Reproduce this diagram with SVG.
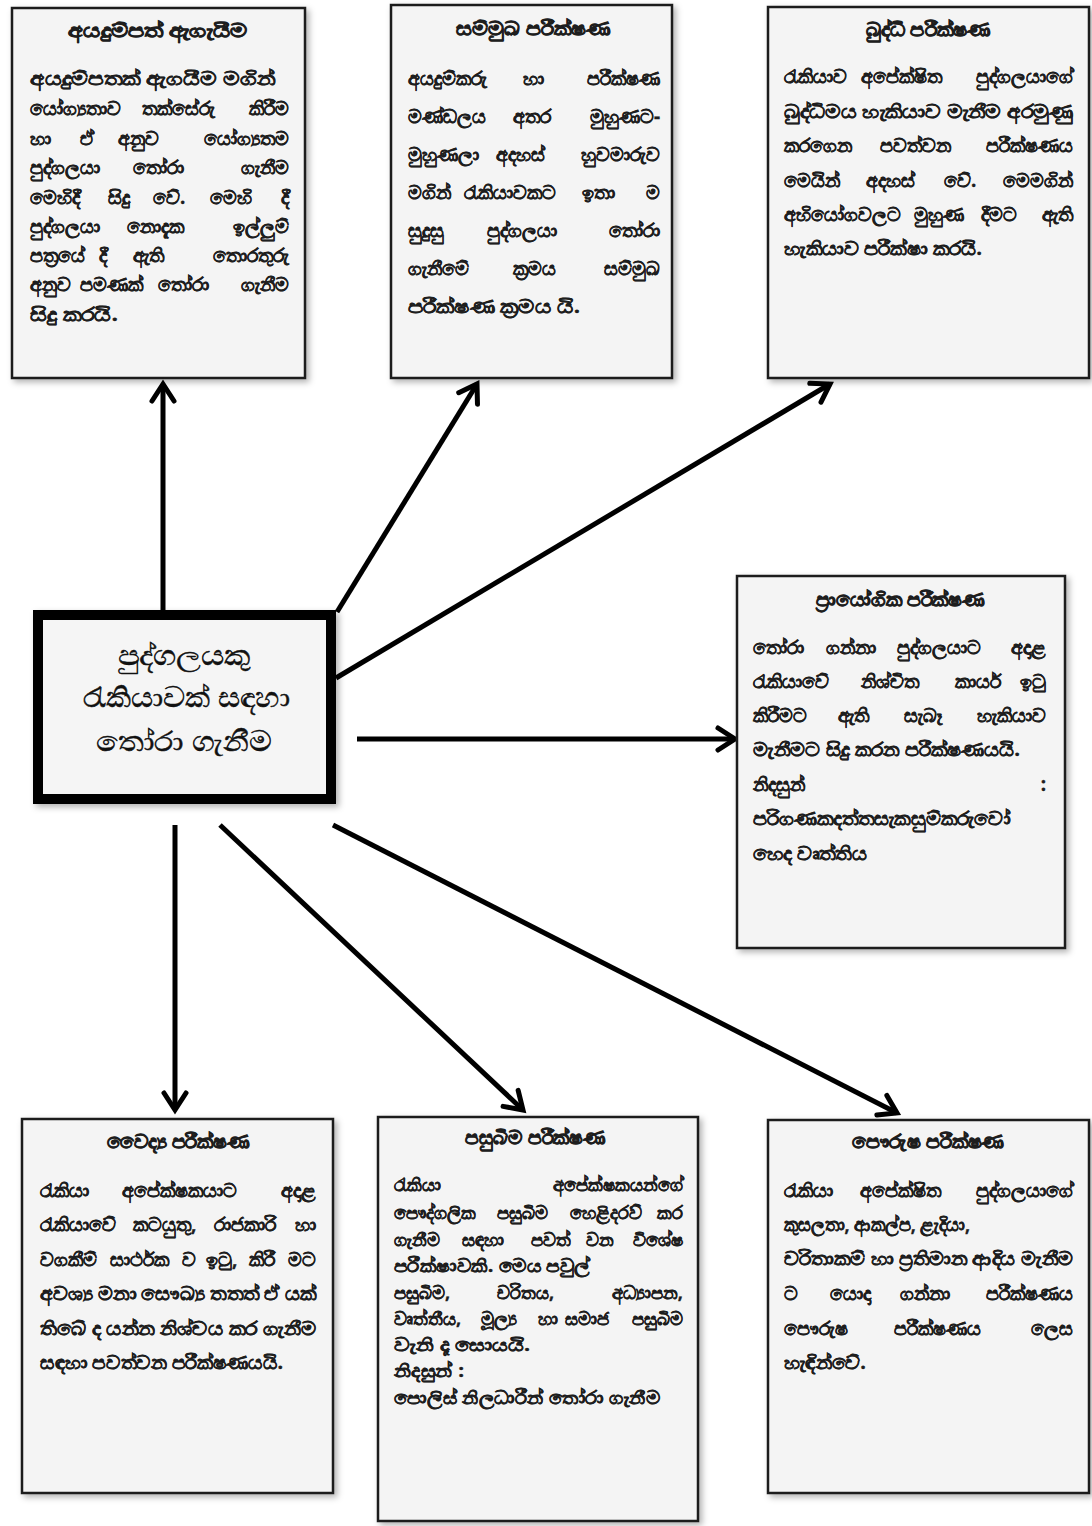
<svg xmlns="http://www.w3.org/2000/svg" width="1092" height="1526" viewBox="0 0 1092 1526">
  <defs>
    <filter id="shadow" x="-10%" y="-10%" width="125%" height="125%">
      <feDropShadow dx="3" dy="3" stdDeviation="3" flood-color="#000" flood-opacity="0.3"/>
    </filter>
    <marker id="head" markerUnits="userSpaceOnUse" markerWidth="30" markerHeight="30" viewBox="-25 -15 30 30" refX="0" refY="0" orient="auto">
      <path d="M-17,-11 L0,0 L-17,11" fill="none" stroke="#000" stroke-width="5" stroke-linecap="round" stroke-linejoin="miter"/>
    </marker>
    <style>
      .box { fill: #f4f4f4; stroke: #1a1a1a; stroke-width: 2.5; filter: url(#shadow); }
      .hub { fill: #f5f5f5; stroke: #000; stroke-width: 10; filter: url(#shadow); }
      text { font-family: "Noto Sans", "DejaVu Sans", sans-serif; fill: #1e1e1e; }
      .t { font-size: 19px; font-weight: bold; text-anchor: middle; stroke: #1e1e1e; stroke-width: 0.7; }
      .b { font-size: 19px; font-weight: bold; stroke: #1e1e1e; stroke-width: 0.3; }
      .s { font-size: 18px; font-weight: bold; stroke: #1e1e1e; stroke-width: 0.3; }
      .e { text-anchor: end; }
      .c { font-size: 28px; text-anchor: middle; fill: #111; stroke: #111; stroke-width: 0.5; }
      .arrow { fill: none; stroke: #000; stroke-width: 5; marker-end: url(#head); }
    </style>
  </defs>

  <rect width="1092" height="1526" fill="#fff"/>

  <!-- connectors from the central node -->
  <g id="connectors">
    <line class="arrow" x1="163" y1="612" x2="163" y2="384"/>
    <line class="arrow" x1="337" y1="612" x2="477" y2="384"/>
    <line class="arrow" x1="336" y1="678" x2="830" y2="384"/>
    <line class="arrow" x1="357" y1="739" x2="735" y2="739"/>
    <line class="arrow" x1="175" y1="825" x2="175" y2="1110"/>
    <line class="arrow" x1="220" y1="825" x2="523" y2="1110"/>
    <line class="arrow" x1="333" y1="825" x2="897" y2="1113"/>
  </g>

  <!-- central node -->
  <g id="selection">
    <rect class="hub" x="38" y="615" width="293" height="184"/>
    <text class="c" x="184" y="665" textLength="133" lengthAdjust="spacingAndGlyphs">පුද්ගලයකු</text>
    <text class="c" x="186" y="707" textLength="207" lengthAdjust="spacingAndGlyphs">රැකියාවක් සඳහා</text>
    <text class="c" x="184" y="751" textLength="176" lengthAdjust="spacingAndGlyphs">තෝරා ගැනීම</text>
  </g>

  <!-- application evaluation -->
  <g id="application">
    <rect class="box" x="12" y="8" width="293" height="370"/>
    <text class="t" x="158" y="37" textLength="180" lengthAdjust="spacingAndGlyphs">අයදුම්පත් ඇගැයීම</text>
    <g class="b">
      <text x="30" y="85" textLength="245" lengthAdjust="spacingAndGlyphs">අයදුම්පතක් ඇගයීම මගින්</text>
      <text x="30" y="115">යෝග්‍යතාව</text><text x="142" y="115">තක්සේරු</text><text class="e" x="289" y="115">කිරීම</text>
      <text x="30" y="145">හා</text><text x="80" y="145">ඒ</text><text x="118" y="145">අනුව</text><text class="e" x="289" y="145">යෝග්‍යතම</text>
      <text x="30" y="174">පුද්ගලයා</text><text x="133" y="174">තෝරා</text><text class="e" x="289" y="174">ගැනීම</text>
      <text x="30" y="204">මෙහිදී</text><text x="108" y="204">සිදු</text><text x="153" y="204">වේ.</text><text x="210" y="204">මෙහි</text><text class="e" x="289" y="204">දී</text>
      <text x="30" y="233">පුද්ගලයා</text><text x="127" y="233">නොදැක</text><text class="e" x="289" y="233">ඉල්ලුම්</text>
      <text x="30" y="262">පත්‍රයේ</text><text x="99" y="262">දී</text><text x="133" y="262">ඇති</text><text class="e" x="289" y="262">තොරතුරු</text>
      <text x="30" y="291">අනුව</text><text x="80" y="291">පමණක්</text><text x="158" y="291">තෝරා</text><text class="e" x="289" y="291">ගැනීම</text>
      <text x="30" y="321" textLength="88" lengthAdjust="spacingAndGlyphs">සිදු කරයි.</text>
    </g>
  </g>

  <!-- interview -->
  <g id="interview">
    <rect class="box" x="391" y="5" width="281" height="373"/>
    <text class="t" x="533" y="35" textLength="154" lengthAdjust="spacingAndGlyphs">සම්මුඛ පරීක්ෂණ</text>
    <g class="b">
      <text x="408" y="85">අයදුම්කරු</text><text x="523" y="85">හා</text><text class="e" x="660" y="85">පරීක්ෂණ</text>
      <text x="408" y="123">මණ්ඩලය</text><text x="513" y="123">අතර</text><text class="e" x="660" y="123">මුහුණට-</text>
      <text x="408" y="161">මුහුණලා</text><text x="496" y="161">අදහස්</text><text class="e" x="660" y="161">හුවමාරුව</text>
      <text x="408" y="199">මගින්</text><text x="464" y="199">රැකියාවකට</text><text x="582" y="199">ඉතා</text><text class="e" x="660" y="199">ම</text>
      <text x="408" y="237">සුදුසු</text><text x="487" y="237">පුද්ගලයා</text><text class="e" x="660" y="237">තෝරා</text>
      <text x="408" y="275">ගැනීමේ</text><text x="513" y="275">ක්‍රමය</text><text class="e" x="660" y="275">සම්මුඛ</text>
      <text x="408" y="313" textLength="172" lengthAdjust="spacingAndGlyphs">පරීක්ෂණ ක්‍රමය යි.</text>
    </g>
  </g>

  <!-- intelligence test -->
  <g id="intelligence">
    <rect class="box" x="768" y="7" width="321" height="371"/>
    <text class="t" x="928" y="36" textLength="125" lengthAdjust="spacingAndGlyphs">බුද්ධි පරීක්ෂණ</text>
    <g class="b">
      <text x="784" y="83">රැකියාව</text><text x="861" y="83">අපේක්ෂිත</text><text class="e" x="1073" y="83">පුද්ගලයාගේ</text>
      <text x="784" y="118" textLength="289" lengthAdjust="spacingAndGlyphs">බුද්ධිමය හැකියාව මැනීම අරමුණු</text>
      <text x="784" y="152">කරගෙන</text><text x="880" y="152">පවත්වන</text><text class="e" x="1073" y="152">පරීක්ෂණය</text>
      <text x="784" y="187">මෙයින්</text><text x="866" y="187">අදහස්</text><text x="944" y="187">වේ.</text><text class="e" x="1073" y="187">මෙමගින්</text>
      <text x="784" y="221">අභියෝගවලට</text><text x="914" y="221">මුහුණ</text><text x="981" y="221">දීමට</text><text class="e" x="1073" y="221">ඇති</text>
      <text x="784" y="255" textLength="198" lengthAdjust="spacingAndGlyphs">හැකියාව පරීක්ෂා කරයි.</text>
    </g>
  </g>

  <!-- practical test -->
  <g id="practical">
    <rect class="box" x="737" y="576" width="328" height="372"/>
    <text class="t" x="900" y="606" textLength="169" lengthAdjust="spacingAndGlyphs">ප්‍රායෝගික පරීක්ෂණ</text>
    <g class="b">
      <text x="753" y="654">තෝරා</text><text x="826" y="654">ගන්නා</text><text x="897" y="654">පුද්ගලයාට</text><text class="e" x="1046" y="654">අදාළ</text>
      <text x="753" y="688">රැකියාවේ</text><text x="861" y="688">නිශ්චිත</text><text x="955" y="688">කාර්ය</text><text class="e" x="1046" y="688">ඉටු</text>
      <text x="753" y="722">කිරීමට</text><text x="838" y="722">ඇති</text><text x="904" y="722">සැබෑ</text><text class="e" x="1046" y="722">හැකියාව</text>
      <text x="753" y="756" textLength="267" lengthAdjust="spacingAndGlyphs">මැනීමට සිදු කරන පරීක්ෂණයයි.</text>
      <text x="753" y="791">නිදසුන්</text><text class="e" x="1046" y="791">:</text>
      <text x="753" y="825" textLength="257" lengthAdjust="spacingAndGlyphs">පරිගණකදත්තසැකසුම්කරුවෝ</text>
      <text x="753" y="860" textLength="114" lengthAdjust="spacingAndGlyphs">හෙද වෘත්තිය</text>
    </g>
  </g>

  <!-- medical test -->
  <g id="medical">
    <rect class="box" x="22" y="1119" width="311" height="374"/>
    <text class="t" x="178" y="1148" textLength="142" lengthAdjust="spacingAndGlyphs">වෛද්‍ය පරීක්ෂණ</text>
    <g class="b">
      <text x="40" y="1197">රැකියා</text><text x="122" y="1197">අපේක්ෂකයාට</text><text class="e" x="316" y="1197">අදාළ</text>
      <text x="40" y="1231">රැකියාවේ</text><text x="133" y="1231">කටයුතු,</text><text x="214" y="1231">රාජකාරි</text><text class="e" x="316" y="1231">හා</text>
      <text x="40" y="1266">වගකීම්</text><text x="110" y="1266">සාර්ථක</text><text x="182" y="1266">ව</text><text x="206" y="1266">ඉටු,</text><text x="249" y="1266">කිරී</text><text class="e" x="316" y="1266">මට</text>
      <text x="40" y="1300" textLength="276" lengthAdjust="spacingAndGlyphs">අවශ්‍ය මනා සෞඛ්‍ය තතත් ඒ යක්</text>
      <text x="40" y="1335" textLength="276" lengthAdjust="spacingAndGlyphs">තිබේ ද යන්න නිශ්චය කර ගැනීම</text>
      <text x="40" y="1369" textLength="243" lengthAdjust="spacingAndGlyphs">සඳහා පවත්වන පරීක්ෂණයයි.</text>
    </g>
  </g>

  <!-- background test -->
  <g id="background">
    <rect class="box" x="378" y="1117" width="320" height="404"/>
    <text class="t" x="535" y="1144" textLength="140" lengthAdjust="spacingAndGlyphs">පසුබිම පරීක්ෂණ</text>
    <g class="s">
      <text x="394" y="1191">රැකියා</text><text class="e" x="683" y="1191">අපේක්ෂකයන්ගේ</text>
      <text x="394" y="1219">පෞද්ගලික</text><text x="497" y="1219">පසුබිම</text><text x="570" y="1219">හෙළිදරව්</text><text class="e" x="683" y="1219">කර</text>
      <text x="394" y="1246">ගැනීම</text><text x="462" y="1246">සඳහා</text><text x="531" y="1246">පවත්</text><text x="586" y="1246">වන</text><text class="e" x="683" y="1246">විශේෂ</text>
      <text x="394" y="1272" textLength="196" lengthAdjust="spacingAndGlyphs">පරීක්ෂාවකි. මෙය පවුල්</text>
      <text x="394" y="1299">පසුබිම,</text><text x="497" y="1299">චරිතය,</text><text class="e" x="683" y="1299">අධ්‍යාපන,</text>
      <text x="394" y="1325">වෘත්තීය,</text><text x="481" y="1325">මූල්‍ය</text><text x="538" y="1325">හා</text><text x="565" y="1325">සමාජ</text><text class="e" x="683" y="1325">පසුබිම</text>
      <text x="394" y="1351" textLength="136" lengthAdjust="spacingAndGlyphs">වැනි දෑ සොයයි.</text>
      <text x="394" y="1377" textLength="70" lengthAdjust="spacingAndGlyphs">නිදසුන් :</text>
      <text x="394" y="1404" textLength="266" lengthAdjust="spacingAndGlyphs">පොලිස් නිලධාරීන් තෝරා ගැනීම</text>
    </g>
  </g>

  <!-- personality test -->
  <g id="personality">
    <rect class="box" x="768" y="1120" width="321" height="373"/>
    <text class="t" x="928" y="1148" textLength="152" lengthAdjust="spacingAndGlyphs">පෞරුෂ පරීක්ෂණ</text>
    <g class="b">
      <text x="784" y="1197">රැකියා</text><text x="860" y="1197">අපේක්ෂිත</text><text class="e" x="1073" y="1197">පුද්ගලයාගේ</text>
      <text x="784" y="1231" textLength="186" lengthAdjust="spacingAndGlyphs">කුසලතා, ආකල්ප, ළැදියා,</text>
      <text x="784" y="1265" textLength="289" lengthAdjust="spacingAndGlyphs">චරිතාකම් හා ප්‍රතිමාන ආදිය මැනීම</text>
      <text x="784" y="1300">ට</text><text x="830" y="1300">යොදා</text><text x="900" y="1300">ගන්නා</text><text class="e" x="1073" y="1300">පරීක්ෂණය</text>
      <text x="784" y="1335">පෞරුෂ</text><text x="894" y="1335">පරීක්ෂණය</text><text class="e" x="1073" y="1335">ලෙස</text>
      <text x="784" y="1369" textLength="82" lengthAdjust="spacingAndGlyphs">හැඳින්වේ.</text>
    </g>
  </g>
</svg>
